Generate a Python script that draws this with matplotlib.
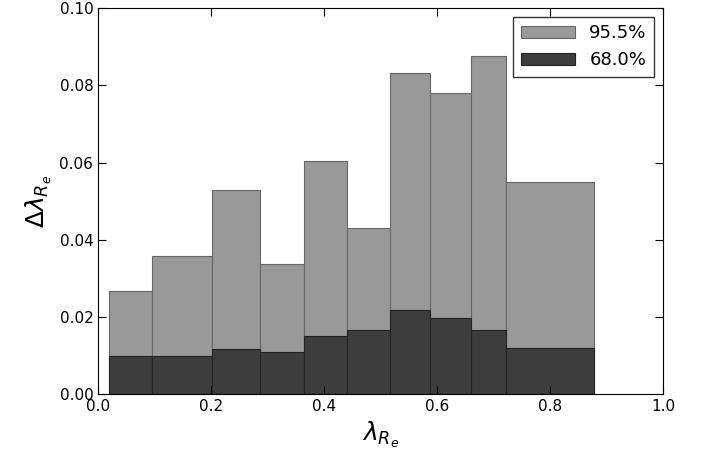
import numpy as np
import matplotlib
matplotlib.use("Agg")
import matplotlib.pyplot as plt

edges = [0.019, 0.096, 0.202, 0.287, 0.365, 0.441, 0.517, 0.588, 0.660, 0.722, 0.878]
outer = [0.0267, 0.0358, 0.0529, 0.0337, 0.0604, 0.0430, 0.0833, 0.0780, 0.0876, 0.0549]
inner = [0.0099, 0.0099, 0.0116, 0.0110, 0.0150, 0.0166, 0.0218, 0.0197, 0.0166, 0.0120]

left = np.array(edges[:-1])
width = np.diff(edges)

fig, ax = plt.subplots(figsize=(7.06, 4.55), dpi=100)
ax.bar(left, outer, width=width, align="edge", color="#999999", edgecolor="#666666", linewidth=0.8, label="95.5%")
ax.bar(left, inner, width=width, align="edge", color="#3d3d3d", edgecolor="#222222", linewidth=0.8, label="68.0%")

ax.set_xlim(0, 1)
ax.set_ylim(0, 0.1)
ax.set_xticks(np.arange(0, 1.01, 0.2))
ax.set_yticks(np.arange(0, 0.101, 0.02))
ax.set_xticklabels(["%.1f" % v for v in np.arange(0, 1.01, 0.2)])
ax.set_yticklabels(["%.2f" % v for v in np.arange(0, 0.101, 0.02)])
ax.tick_params(direction="in", top=True, right=True, labelsize=11, length=6)
ax.set_xlabel(r"$\lambda_{R_e}$", fontsize=18)
ax.set_ylabel(r"$\Delta\lambda_{R_e}$", fontsize=18)
ax.legend(loc="upper right", fontsize=13, fancybox=False, edgecolor="black", handlelength=3)
fig.subplots_adjust(left=0.139, right=0.939, top=0.982, bottom=0.134)
fig.savefig("out.png")
